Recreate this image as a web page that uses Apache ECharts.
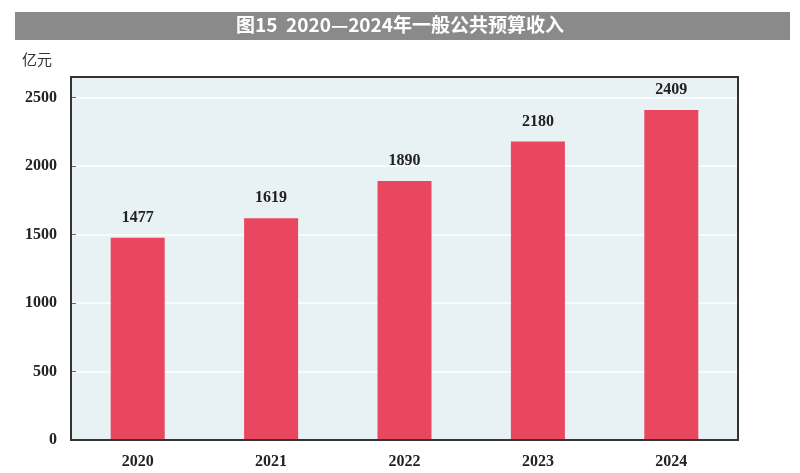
<!DOCTYPE html>
<html>
<head>
<meta charset="utf-8">
<title>一般公共预算收入</title>
<script src="https://cdn.jsdelivr.net/npm/echarts@6/dist/echarts.min.js"></script>
<style>body{margin:0;background:#fff}</style>
</head>
<body>
<div id="main" style="width:800px;height:473px;"></div>
<script>
var years = ['2020', '2021', '2022', '2023', '2024'];
var revenue = [1477, 1619, 1890, 2180, 2409];

var chart = echarts.init(document.getElementById('main'));
chart.setOption({
    backgroundColor: '#fff',
    graphic: [
        { type: 'rect', shape: { x: 15, y: 12, width: 775, height: 28 }, style: { fill: '#8a8a8a' } },
        { type: 'text', left: 'center', top: 15, style: { text: '图15  2020—2024年一般公共预算收入', fill: '#fff', font: 'bold 19px "Noto Sans CJK SC"' } },
        { type: 'text', left: 22, top: 52, style: { text: '亿元', fill: '#333', font: '15px "Noto Sans CJK SC"' } },
        // plot frame
        { type: 'rect', z: 100, shape: { x: 71, y: 77, width: 667, height: 363 }, style: { fill: 'none', stroke: '#333', lineWidth: 2 } }
    ],
    grid: { left: 71, right: 62, top: 77, bottom: 33, show: true, backgroundColor: '#e8f1f3', borderWidth: 0 },
    xAxis: {
        type: 'category',
        data: years,
        axisLine: { lineStyle: { color: '#333', width: 2 } },
        axisTick: { show: false },
        axisLabel: { color: '#222', fontFamily: 'Liberation Serif', fontWeight: 'bold', fontSize: 16, margin: 14 },
        splitLine: { show: false }
    },
    yAxis: {
        type: 'value',
        min: 0, max: 2650, interval: 500,
        axisLine: { show: true, lineStyle: { color: '#333', width: 2 } },
        axisTick: { show: true, inside: true, length: 5, lineStyle: { color: '#666' } },
        axisLabel: { color: '#222', fontFamily: 'Liberation Serif', fontWeight: 'bold', fontSize: 16, margin: 14, showMaxLabel: false,
            formatter: function (v) { return String(v); } },
        splitLine: { lineStyle: { color: '#ffffff', width: 1.5 } }
    },
    series: [{
        type: 'bar',
        data: revenue,
        barWidth: 54,
        itemStyle: { color: '#e9475f' },
        label: { show: true, position: 'top', distance: 12, color: '#222', fontFamily: 'Liberation Serif', fontWeight: 'bold', fontSize: 16 }
    }]
});
</script>
</body>
</html>
